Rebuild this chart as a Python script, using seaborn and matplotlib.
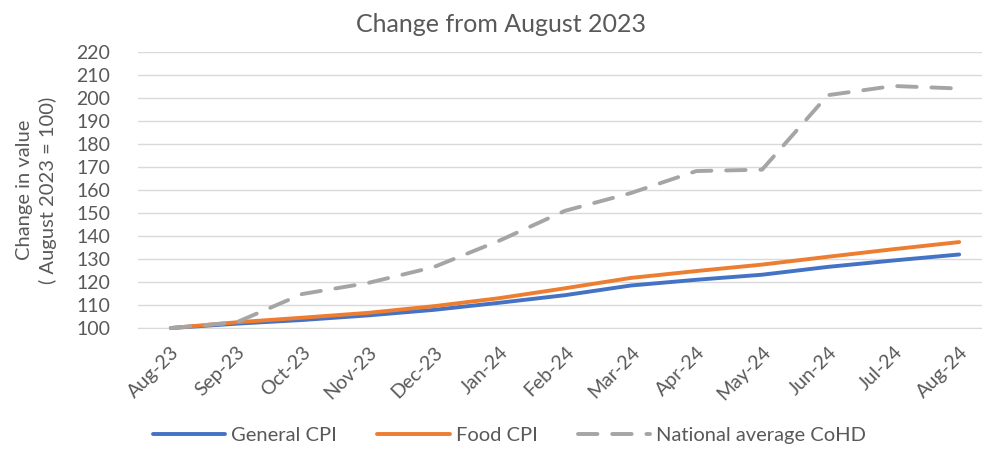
import numpy as np
import pandas as pd
import matplotlib
matplotlib.use('Agg')
import matplotlib.pyplot as plt
from matplotlib.ticker import FixedLocator
import seaborn as sns

# data
months = ['Aug-23', 'Sep-23', 'Oct-23', 'Nov-23', 'Dec-23', 'Jan-24', 'Feb-24',
          'Mar-24', 'Apr-24', 'May-24', 'Jun-24', 'Jul-24', 'Aug-24']
general_cpi = [100, 101.9, 103.5, 105.5, 107.9, 111.0, 114.3, 118.5, 121.0, 123.2, 126.6, 129.4, 132.0]
food_cpi = [100, 102.5, 104.5, 106.6, 109.5, 113.0, 117.3, 121.8, 124.8, 127.6, 131.0, 134.3, 137.4]
cohd = [100, 102.5, 114.8, 119.6, 126.5, 138.0, 151.0, 158.7, 168.3, 168.9, 201.3, 205.3, 204.2]

series_names = ['General CPI', 'Food CPI', 'National average CoHD']
colors = ['#4472C4', '#ED7D31', '#A5A5A5']

df = pd.DataFrame({'x': np.arange(len(months))})
df['General CPI'] = general_cpi
df['Food CPI'] = food_cpi
df['National average CoHD'] = cohd

sns.set_style('white')
plt.rcParams['font.family'] = ['Lato', 'DejaVu Sans']
txt = '#595959'

fig = plt.figure(figsize=(9.82, 4.5), dpi=100)
ax = fig.add_axes([0.1405, 0.271, 0.8697, 0.613])

for name, col in zip(series_names, colors):
    dashed = name == 'National average CoHD'
    sns.lineplot(data=df, x='x', y=name, ax=ax, color=col, lw=2.8,
                 linestyle=(0, (5, 3.8)) if dashed else '-',
                 label=name, zorder=4 if dashed else 3, clip_on=False,
                 solid_capstyle='round', dash_capstyle='round')

ax.set_xlim(-0.5, 12.5)
ax.set_ylim(100, 220)
ax.set_yticks(np.arange(100, 221, 10))
ax.set_xticks(np.arange(len(months)))
ax.set_xticklabels(months, rotation=45, ha='right', rotation_mode='anchor')
ax.xaxis.set_minor_locator(FixedLocator(np.arange(-0.5, 13, 1)))
ax.tick_params(axis='x', which='major', length=0, pad=11, labelsize=14, labelcolor=txt)
ax.tick_params(axis='x', which='minor', length=7, color='#D9D9D9', width=1)
ax.tick_params(axis='y', length=0, pad=20, labelsize=14, labelcolor=txt)
ax.grid(axis='y', color='#D9D9D9', lw=1)
ax.set_axisbelow(True)
for s in ['left', 'right', 'top']:
    ax.spines[s].set_visible(False)
ax.spines['bottom'].set_color('#D9D9D9')
ax.set_xlabel('')
ax.set_ylabel('Change in value\n( August 2023 = 100)', fontsize=14.5, color=txt,
              labelpad=14, linespacing=1.35)

fig.text(0.51, 0.945, 'Change from August 2023', ha='center', va='center',
         fontsize=18, color=txt)

ax.legend(loc='lower center', bbox_to_anchor=(0.435, -0.485), ncol=3, frameon=False,
          fontsize=14.5, handlelength=3.6, columnspacing=2.0, handletextpad=0.3,
          labelcolor=txt)

fig.savefig('out.png', dpi=100)
